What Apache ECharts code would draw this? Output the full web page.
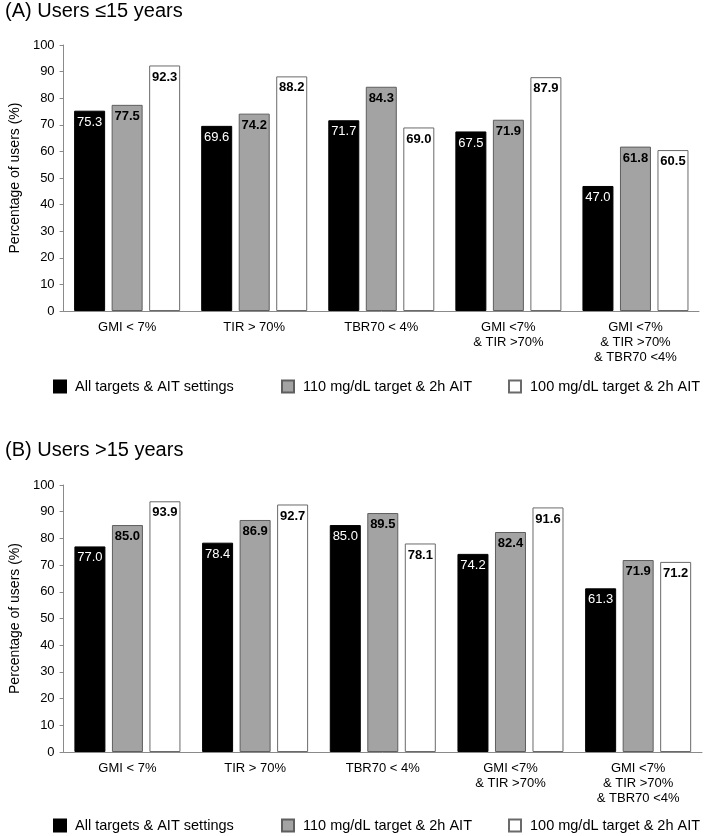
<!DOCTYPE html>
<html lang="en">
<head>
<meta charset="UTF-8"/>
<title>Users by target settings</title>
<script src="https://cdn.jsdelivr.net/npm/echarts@6/dist/echarts.min.js"></script>
<style>
  html, body { margin: 0; padding: 0; background: #fff; }
  #main { width: 709px; height: 836px; }
</style>
</head>
<body>
<div id="main"></div>
<script type="text/javascript">
// categories and values
var categories = ['GMI < 7%', 'TIR > 70%', 'TBR70 < 4%', 'GMI <7%\n& TIR >70%', 'GMI <7%\n& TIR >70%\n& TBR70 <4%'];
var seriesNames = ['All targets & AIT settings', '110 mg/dL target & 2h AIT', '100 mg/dL target & 2h AIT'];
var yTicks = [0, 100, 10]; // min, max, interval

// (A) users <=15 years
var aAll = [75.3, 69.6, 71.7, 67.5, 47.0];
var a110 = [77.5, 74.2, 84.3, 71.9, 61.8];
var a100 = [92.3, 88.2, 69.0, 87.9, 60.5];

// (B) users >15 years
var bAll = [77.0, 78.4, 85.0, 74.2, 61.3];
var b110 = [85.0, 86.9, 89.5, 82.4, 71.9];
var b100 = [93.9, 92.7, 78.1, 91.6, 71.2];

var font = '"Liberation Sans", Arial, sans-serif';

var styles = [
  { color: '#000000', borderColor: '#000000', borderWidth: 1 },
  { color: '#a3a3a3', borderColor: '#5e5e5e', borderWidth: 1 },
  { color: '#ffffff', borderColor: '#6a6a6a', borderWidth: 1 }
];
var labelStyles = [
  { color: '#ffffff', fontWeight: 'normal' },
  { color: '#000000', fontWeight: 'bold' },
  { color: '#000000', fontWeight: 'bold' }
];

function makeSeries(values, idx, gridIdx) {
  return {
    name: seriesNames[idx],
    type: 'bar',
    xAxisIndex: gridIdx,
    yAxisIndex: gridIdx,
    data: values,
    barWidth: 31,
    barGap: '21%',
    itemStyle: styles[idx],
    label: {
      show: true,
      position: 'insideTop',
      distance: 5,
      fontFamily: font,
      fontSize: 13,
      color: labelStyles[idx].color,
      fontWeight: labelStyles[idx].fontWeight,
      formatter: function (p) { return p.value.toFixed(1); }
    },
    animation: false
  };
}

function makeX(gridIdx) {
  return {
    type: 'category',
    gridIndex: gridIdx,
    data: categories,
    axisLine: { lineStyle: { color: '#8a8a8a', width: 1 } },
    axisTick: { show: false },
    axisLabel: { interval: 0, margin: 9, fontFamily: font, fontSize: 13, color: '#000', lineHeight: 15 }
  };
}

function makeY(gridIdx, gap) {
  return {
    type: 'value',
    gridIndex: gridIdx,
    min: yTicks[0],
    max: yTicks[1],
    interval: yTicks[2],
    name: 'Percentage of users (%)',
    nameLocation: 'middle',
    nameRotate: 90,
    nameGap: gap,
    nameTextStyle: { fontFamily: font, fontSize: 14, color: '#000' },
    splitLine: { show: false },
    axisLine: { show: true, lineStyle: { color: '#8a8a8a', width: 1 } },
    axisTick: { show: true, length: 4, lineStyle: { color: '#8a8a8a' } },
    axisLabel: { margin: 9, fontFamily: font, fontSize: 13, color: '#000' }
  };
}

function makeLegend(name, left, top) {
  return {
    data: [name],
    left: left,
    top: top,
    padding: 0,
    itemWidth: 12,
    itemHeight: 12,
    icon: 'rect',
    selectedMode: false,
    textStyle: { fontFamily: font, fontSize: 14.5, color: '#000', padding: [0, 0, 0, 4] }
  };
}

var myChart = echarts.init(document.getElementById('main'));
var option = {
  backgroundColor: '#ffffff',
  animation: false,
  title: [
    { text: '(A) Users \u226415 years', left: 5, top: 1, padding: 0,
      textStyle: { fontFamily: font, fontSize: 20, fontWeight: 'normal', color: '#000' } },
    { text: '(B) Users >15 years', left: 5, top: 440, padding: 0,
      textStyle: { fontFamily: font, fontSize: 20, fontWeight: 'normal', color: '#000' } }
  ],
  legend: [
    makeLegend(seriesNames[0], 53, 379),
    makeLegend(seriesNames[1], 281, 379),
    makeLegend(seriesNames[2], 508, 379),
    makeLegend(seriesNames[0], 53, 818),
    makeLegend(seriesNames[1], 281, 818),
    makeLegend(seriesNames[2], 508, 818)
  ],
  grid: [
    { left: 59, top: 45, width: 640, height: 266 },
    { left: 54, top: 485, width: 648, height: 267 }
  ],
  xAxis: [makeX(0), makeX(1)],
  yAxis: [makeY(0, 33), makeY(1, 28)],
  series: [
    makeSeries(aAll, 0, 0),
    makeSeries(a110, 1, 0),
    makeSeries(a100, 2, 0),
    makeSeries(bAll, 0, 1),
    makeSeries(b110, 1, 1),
    makeSeries(b100, 2, 1)
  ]
};
myChart.setOption(option);
</script>
</body>
</html>
